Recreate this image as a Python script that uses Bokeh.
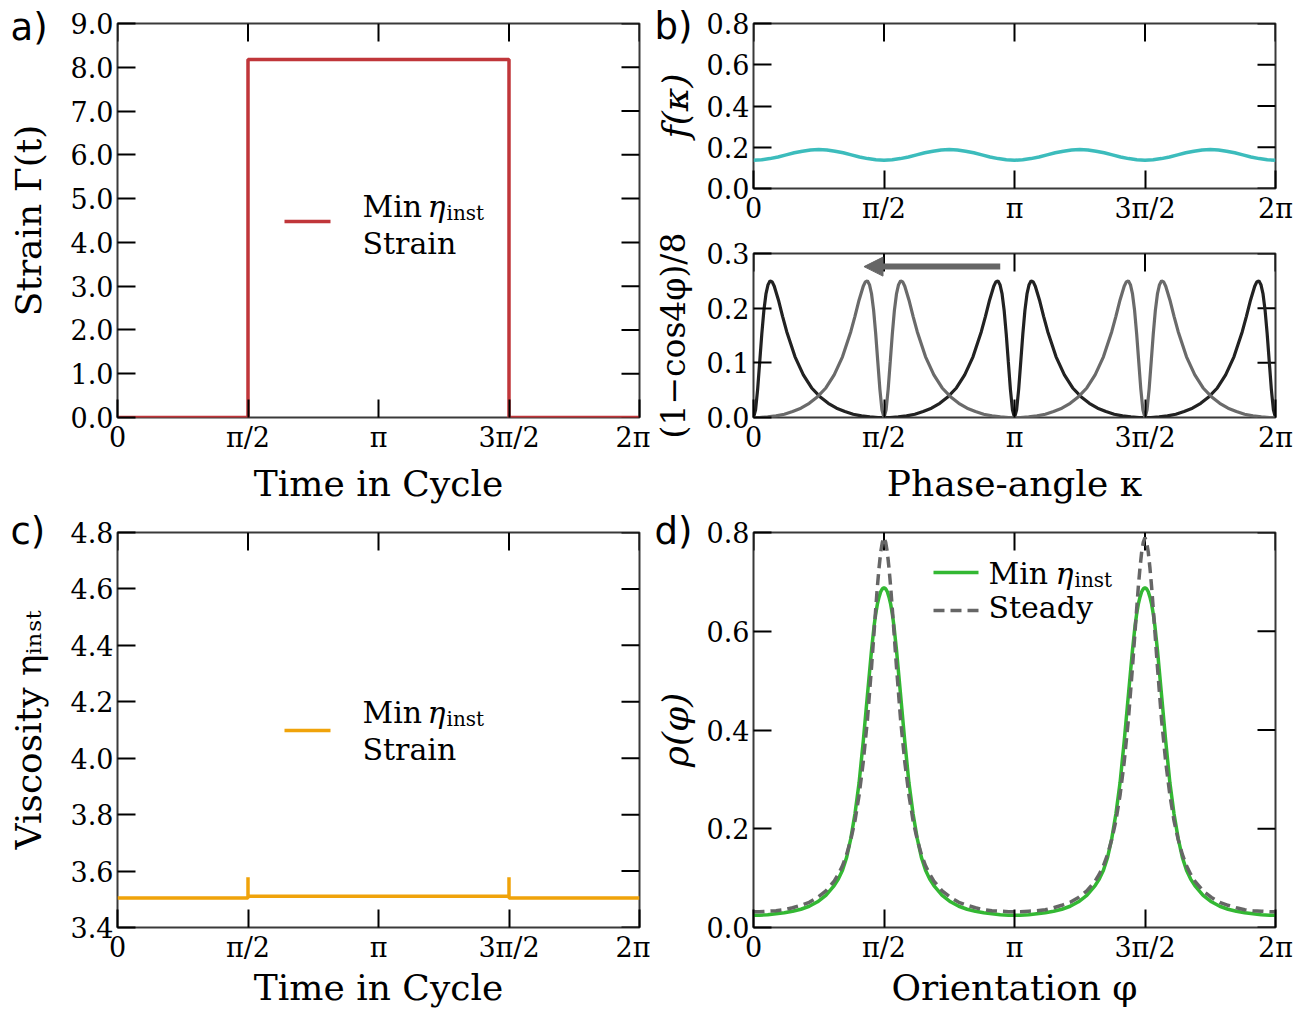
import numpy as np
from bokeh.plotting import figure
from bokeh.models import FixedTicker, Range1d, Label, Arrow, NormalHead
from bokeh.layouts import row, column
from bokeh.embed import file_html
from bokeh.resources import INLINE
from bokeh.core.properties import value

PI = np.pi

# ---------------- data ----------------
X_TICKS = [0.0, PI / 2, PI, 3 * PI / 2, 2 * PI]
X_TICK_LABELS = ["0", "π/2", "π", "3π/2", "2π"]

# a) strain
STRAIN_T = [0.0, 1.5708, 1.5708, 4.7124, 4.7124, 6.2832]
STRAIN_V = [0.0, 0.0, 8.18, 8.18, 0.0, 0.0]
A_YTICKS = [0.0, 1.0, 2.0, 3.0, 4.0, 5.0, 6.0, 7.0, 8.0, 9.0]

# b) top: f(kappa)
F_KAPPA = [0.0, 0.098, 0.196, 0.295, 0.393, 0.491, 0.589, 0.687, 0.785, 0.884, 0.982, 1.080, 1.178,
           1.276, 1.374, 1.473, 1.571, 1.669, 1.767, 1.865, 1.963, 2.062, 2.160, 2.258, 2.356, 2.454,
           2.553, 2.651, 2.749, 2.847, 2.945, 3.043, 3.142, 3.240, 3.338, 3.436, 3.534, 3.632, 3.731,
           3.829, 3.927, 4.025, 4.123, 4.221, 4.320, 4.418, 4.516, 4.614, 4.712, 4.810, 4.909, 5.007,
           5.105, 5.203, 5.301, 5.400, 5.498, 5.596, 5.694, 5.792, 5.890, 5.988, 6.087, 6.185, 6.283]
F_VALUES = [0.137, 0.139, 0.145, 0.153, 0.163, 0.173, 0.181, 0.187, 0.189, 0.187, 0.181, 0.173, 0.163,
            0.153, 0.145, 0.139, 0.137, 0.139, 0.145, 0.153, 0.163, 0.173, 0.181, 0.187, 0.189, 0.187,
            0.181, 0.173, 0.163, 0.153, 0.145, 0.139, 0.137, 0.139, 0.145, 0.153, 0.163, 0.173, 0.181,
            0.187, 0.189, 0.187, 0.181, 0.173, 0.163, 0.153, 0.145, 0.139, 0.137, 0.139, 0.145, 0.153,
            0.163, 0.173, 0.181, 0.187, 0.189, 0.187, 0.181, 0.173, 0.163, 0.153, 0.145, 0.139, 0.137]
BT_YTICKS = [0.0, 0.2, 0.4, 0.6, 0.8]

# b) bottom: (1 - cos 4phi)/8, two orbits
BLACK_KAPPA = [0.0, 0.025, 0.05, 0.075, 0.1, 0.125, 0.15, 0.175, 0.2, 0.225, 0.25, 0.3, 0.35, 0.4, 0.5,
               0.6, 0.7, 0.8, 0.9, 1.0, 1.1, 1.2, 1.3, 1.4, 1.5, 1.571,
               1.642, 1.742, 1.842, 1.942, 2.042, 2.142, 2.242, 2.342, 2.442, 2.542, 2.642, 2.742, 2.792,
               2.842, 2.892, 2.917, 2.942, 2.967, 2.992, 3.017, 3.042, 3.067, 3.092, 3.117, 3.142,
               3.167, 3.192, 3.217, 3.242, 3.267, 3.292, 3.317, 3.342, 3.367, 3.392, 3.442, 3.492, 3.542,
               3.642, 3.742, 3.842, 3.942, 4.042, 4.142, 4.242, 4.342, 4.442, 4.542, 4.642, 4.712,
               4.783, 4.883, 4.983, 5.083, 5.183, 5.283, 5.383, 5.483, 5.583, 5.683, 5.783, 5.883, 5.933,
               5.983, 6.033, 6.058, 6.083, 6.108, 6.133, 6.158, 6.183, 6.208, 6.233, 6.258, 6.283]
BLACK_VALUES = [0.0, 0.014, 0.052, 0.102, 0.153, 0.196, 0.226, 0.243, 0.250, 0.248, 0.240, 0.215, 0.185,
                0.157, 0.111, 0.078, 0.054, 0.038, 0.026, 0.017, 0.011, 0.006, 0.003, 0.001, 0.000, 0.000,
                0.000, 0.001, 0.003, 0.006, 0.011, 0.017, 0.026, 0.038, 0.054, 0.078, 0.111, 0.157, 0.185,
                0.215, 0.240, 0.248, 0.250, 0.243, 0.226, 0.196, 0.153, 0.102, 0.052, 0.014, 0.000,
                0.014, 0.052, 0.102, 0.153, 0.196, 0.226, 0.243, 0.250, 0.248, 0.240, 0.215, 0.185, 0.157,
                0.111, 0.078, 0.054, 0.038, 0.026, 0.017, 0.011, 0.006, 0.003, 0.001, 0.000, 0.000,
                0.000, 0.001, 0.003, 0.006, 0.011, 0.017, 0.026, 0.038, 0.054, 0.078, 0.111, 0.157, 0.185,
                0.215, 0.240, 0.248, 0.250, 0.243, 0.226, 0.196, 0.153, 0.102, 0.052, 0.014, 0.000]
GRAY_KAPPA = [0.0, 0.071, 0.171, 0.271, 0.371, 0.471, 0.571, 0.671, 0.771, 0.871, 0.971, 1.071, 1.171,
              1.221, 1.271, 1.321, 1.346, 1.371, 1.396, 1.421, 1.446, 1.471, 1.496, 1.521, 1.546, 1.571,
              1.596, 1.621, 1.646, 1.671, 1.696, 1.721, 1.746, 1.771, 1.796, 1.821, 1.871, 1.921, 1.971,
              2.071, 2.171, 2.271, 2.371, 2.471, 2.571, 2.671, 2.771, 2.871, 2.971, 3.071, 3.142,
              3.212, 3.312, 3.412, 3.512, 3.612, 3.712, 3.812, 3.912, 4.012, 4.112, 4.212, 4.312, 4.362,
              4.412, 4.462, 4.487, 4.512, 4.537, 4.562, 4.587, 4.612, 4.637, 4.662, 4.687, 4.712,
              4.737, 4.762, 4.787, 4.812, 4.837, 4.862, 4.887, 4.912, 4.937, 4.962, 5.012, 5.062, 5.112,
              5.212, 5.312, 5.412, 5.512, 5.612, 5.712, 5.812, 5.912, 6.012, 6.112, 6.212, 6.283]
GRAY_VALUES = [0.000, 0.000, 0.001, 0.003, 0.006, 0.011, 0.017, 0.026, 0.038, 0.054, 0.078, 0.111, 0.157,
               0.185, 0.215, 0.240, 0.248, 0.250, 0.243, 0.226, 0.196, 0.153, 0.102, 0.052, 0.014, 0.000,
               0.014, 0.052, 0.102, 0.153, 0.196, 0.226, 0.243, 0.250, 0.248, 0.240, 0.215, 0.185, 0.157,
               0.111, 0.078, 0.054, 0.038, 0.026, 0.017, 0.011, 0.006, 0.003, 0.001, 0.000, 0.000,
               0.000, 0.001, 0.003, 0.006, 0.011, 0.017, 0.026, 0.038, 0.054, 0.078, 0.111, 0.157, 0.185,
               0.215, 0.240, 0.248, 0.250, 0.243, 0.226, 0.196, 0.153, 0.102, 0.052, 0.014, 0.000,
               0.014, 0.052, 0.102, 0.153, 0.196, 0.226, 0.243, 0.250, 0.248, 0.240, 0.215, 0.185, 0.157,
               0.111, 0.078, 0.054, 0.038, 0.026, 0.017, 0.011, 0.006, 0.003, 0.001, 0.000, 0.000]
BB_YTICKS = [0.0, 0.1, 0.2, 0.3]

# c) viscosity
VISC_T = [0.0, 1.5708, 1.5708, 1.5708, 4.7124, 4.7124, 4.7124, 6.2832]
VISC_V = [3.505, 3.505, 3.578, 3.511, 3.511, 3.578, 3.505, 3.505]
C_YTICKS = [3.4, 3.6, 3.8, 4.0, 4.2, 4.4, 4.6, 4.8]

# d) orientation distribution
PHI = [0.0, 0.071, 0.171, 0.271, 0.371, 0.471, 0.571, 0.671, 0.771, 0.871, 0.971, 1.021, 1.071, 1.121,
       1.171, 1.221, 1.271, 1.321, 1.371, 1.421, 1.451, 1.471, 1.491, 1.511, 1.531, 1.551, 1.571,
       1.591, 1.611, 1.631, 1.651, 1.671, 1.691, 1.721, 1.771, 1.821, 1.871, 1.921, 1.971, 2.021,
       2.071, 2.121, 2.171, 2.271, 2.371, 2.471, 2.571, 2.671, 2.771, 2.871, 2.971, 3.071, 3.142,
       3.212, 3.312, 3.412, 3.512, 3.612, 3.712, 3.812, 3.912, 4.012, 4.112, 4.162, 4.212, 4.262,
       4.312, 4.362, 4.412, 4.462, 4.512, 4.562, 4.592, 4.612, 4.632, 4.652, 4.672, 4.692, 4.712,
       4.732, 4.752, 4.772, 4.792, 4.812, 4.832, 4.862, 4.912, 4.962, 5.012, 5.062, 5.112, 5.162,
       5.212, 5.262, 5.312, 5.412, 5.512, 5.612, 5.712, 5.812, 5.912, 6.012, 6.112, 6.212, 6.283]
RHO_MIN = [0.025, 0.025, 0.026, 0.028, 0.030, 0.033, 0.037, 0.043, 0.052, 0.065, 0.085, 0.098, 0.116,
           0.142, 0.180, 0.230, 0.293, 0.377, 0.470, 0.562, 0.610, 0.635, 0.655, 0.669, 0.680, 0.686, 0.688,
           0.686, 0.680, 0.669, 0.655, 0.635, 0.610, 0.562, 0.470, 0.377, 0.293, 0.230, 0.180, 0.142,
           0.116, 0.098, 0.085, 0.065, 0.052, 0.043, 0.037, 0.033, 0.030, 0.028, 0.026, 0.025, 0.025,
           0.025, 0.026, 0.028, 0.030, 0.033, 0.037, 0.043, 0.052, 0.065, 0.085, 0.098, 0.116, 0.142,
           0.180, 0.230, 0.293, 0.377, 0.470, 0.562, 0.610, 0.635, 0.655, 0.669, 0.680, 0.686, 0.688,
           0.686, 0.680, 0.669, 0.655, 0.635, 0.610, 0.562, 0.470, 0.377, 0.293, 0.230, 0.180, 0.142,
           0.116, 0.098, 0.085, 0.065, 0.052, 0.043, 0.037, 0.033, 0.030, 0.028, 0.026, 0.025, 0.025]
RHO_STEADY = [0.032, 0.032, 0.033, 0.034, 0.036, 0.040, 0.045, 0.051, 0.061, 0.074, 0.094, 0.108, 0.125,
              0.148, 0.178, 0.216, 0.268, 0.335, 0.420, 0.528, 0.598, 0.645, 0.690, 0.728, 0.760, 0.780, 0.790,
              0.780, 0.760, 0.728, 0.690, 0.645, 0.598, 0.528, 0.420, 0.335, 0.268, 0.216, 0.178, 0.148,
              0.125, 0.108, 0.094, 0.074, 0.061, 0.051, 0.045, 0.040, 0.036, 0.034, 0.033, 0.032, 0.032,
              0.032, 0.033, 0.034, 0.036, 0.040, 0.045, 0.051, 0.061, 0.074, 0.094, 0.108, 0.125, 0.148,
              0.178, 0.216, 0.268, 0.335, 0.420, 0.528, 0.598, 0.645, 0.690, 0.728, 0.760, 0.780, 0.790,
              0.780, 0.760, 0.728, 0.690, 0.645, 0.598, 0.528, 0.420, 0.335, 0.268, 0.216, 0.178, 0.148,
              0.125, 0.108, 0.094, 0.074, 0.061, 0.051, 0.045, 0.040, 0.036, 0.034, 0.033, 0.032, 0.032]
D_YTICKS = [0.0, 0.2, 0.4, 0.6, 0.8]

# ---------------- style ----------------
SERIF = "DejaVu Serif"
SANS = "DejaVu Sans"
TICK_FS = "27px"
LABEL_FS = "36px"
LEG_FS = "30px"
SUB_FS = "20px"
LETTER_FS = "37px"
FW = 522
TICK_LEN = 18


def make_fig(fh, yr, yticks, ylabel, mb, ylab_style="normal", xlabel=None, ylab_fs=LABEL_FS,
             ylab_standoff=19, xlab_standoff=7):
    p = figure(frame_width=FW, frame_height=fh, x_range=Range1d(0, 2 * PI), y_range=Range1d(*yr),
               toolbar_location=None, output_backend="svg",
               min_border_top=mb[0], min_border_right=mb[1], min_border_bottom=mb[2], min_border_left=mb[3])
    p.xgrid.visible = False
    p.ygrid.visible = False
    p.outline_line_color = "#3a3a3a"
    p.outline_line_width = 2
    p.background_fill_color = "white"
    p.border_fill_color = "white"

    xa = p.xaxis[0]
    ya = p.yaxis[0]
    xa.ticker = FixedTicker(ticks=X_TICKS)
    xa.major_label_overrides = {t: l for t, l in zip(X_TICKS, X_TICK_LABELS)}
    ya.ticker = FixedTicker(ticks=yticks)
    ya.major_label_overrides = {t: "%.1f" % t for t in yticks}
    for ax in (xa, ya):
        ax.axis_line_color = None
        ax.major_tick_in = TICK_LEN
        ax.major_tick_out = 0
        ax.minor_tick_in = 0
        ax.minor_tick_out = 0
        ax.major_tick_line_color = "black"
        ax.major_tick_line_width = 2
        ax.major_label_text_font = SERIF
        ax.major_label_text_font_size = TICK_FS
        ax.major_label_text_color = "black"
        ax.major_label_standoff = 4
        ax.axis_label_text_font = SERIF
        ax.axis_label_text_font_size = LABEL_FS
        ax.axis_label_text_color = "black"
    ya.axis_label = ylabel
    ya.axis_label_text_font_style = ylab_style
    ya.axis_label_text_font_size = ylab_fs
    ya.axis_label_standoff = ylab_standoff
    if xlabel:
        xa.axis_label = xlabel
        xa.axis_label_text_font_style = "normal"
        xa.axis_label_standoff = xlab_standoff

    # inward ticks on the top and right edges of the box
    y0, y1 = yr
    dy = TICK_LEN / fh * (y1 - y0)
    dx = TICK_LEN / FW * (2 * PI)
    p.segment(x0=X_TICKS, y0=[y1] * len(X_TICKS), x1=X_TICKS, y1=[y1 - dy] * len(X_TICKS),
              line_color="black", line_width=2)
    p.segment(x0=[2 * PI] * len(yticks), y0=yticks, x1=[2 * PI - dx] * len(yticks), y1=yticks,
              line_color="black", line_width=2)
    return p


def txt(p, fx, fy, text, size, font=SERIF, style="normal", baseline="alphabetic"):
    p.add_layout(Label(x=fx, y=fy, x_units="screen", y_units="screen", text=text,
                       text_font=font, text_font_size=size, text_font_style=style,
                       text_baseline=baseline, text_align="left", text_color="black"))


def to_data(p, fh, fx, fy):
    xr, yr = p.x_range, p.y_range
    return (xr.start + fx / FW * (xr.end - xr.start), yr.start + fy / fh * (yr.end - yr.start))


def letter(p, fh, fx, fy, text):
    x, y = to_data(p, fh, fx, fy)
    p.text(x=[x], y=[y], text=[text], text_font=value(SANS), text_font_size=value(LETTER_FS),
           text_baseline="middle", text_align="left", text_color="black", level="overlay")


# ---- a) ----
HA = 394
pa = make_fig(HA, (0, 9), A_YTICKS, "Strain Γ(t)", (23, 11, 91, 117), xlabel="Time in Cycle")
pa.line(STRAIN_T, STRAIN_V, line_color="#c0363a", line_width=3.5)
x0, y0 = to_data(pa, HA, 167, 196)
x1, _ = to_data(pa, HA, 213, 196)
pa.line([x0, x1], [y0, y0], line_color="#c0363a", line_width=3.5)
txt(pa, 245, 211, "Min", LEG_FS)
txt(pa, 310, 211, "η", LEG_FS, style="italic")
txt(pa, 329, 205, "inst", SUB_FS)
txt(pa, 245, 174, "Strain", LEG_FS)
letter(pa, HA, -107, 390, "a)")

# ---- c) ----
HC = 395
pc = make_fig(HC, (3.4, 4.8), C_YTICKS, "Viscosity ηᵢₙₛₜ", (24, 11, 80, 117), xlabel="Time in Cycle",
              xlab_standoff=1)
pc.line(VISC_T, VISC_V, line_color="#f0a30a", line_width=3.5)
x0, y0 = to_data(pc, HC, 167, 197)
x1, _ = to_data(pc, HC, 213, 197)
pc.line([x0, x1], [y0, y0], line_color="#f0a30a", line_width=3.5)
txt(pc, 245, 215, "Min", LEG_FS)
txt(pc, 310, 215, "η", LEG_FS, style="italic")
txt(pc, 329, 209, "inst", SUB_FS)
txt(pc, 245, 178, "Strain", LEG_FS)
letter(pc, HC, -107, 396, "c)")

# ---- b) top ----
HBT = 165
pbt = make_fig(HBT, (0, 0.8), BT_YTICKS, "f(κ)", (23, 21, 38, 103), ylab_style="italic", ylab_standoff=8)
pbt.line(F_KAPPA, F_VALUES, line_color="#3cbcbc", line_width=3.5)
letter(pbt, HBT, -99, 162, "b)")

# ---- b) bottom ----
HBB = 164
pbb = make_fig(HBB, (0, 0.3), BB_YTICKS, "(1−cos4φ)/8", (27, 21, 91, 103), xlabel="Phase-angle κ",
               ylab_fs="33px", ylab_standoff=11)
pbb.line(BLACK_KAPPA, BLACK_VALUES, line_color="#222222", line_width=3.2)
pbb.line(GRAY_KAPPA, GRAY_VALUES, line_color="#6a6a6a", line_width=3.2)
ARROW_FROM = (2.97, 0.276)
ARROW_TO = (1.33, 0.276)
pbb.add_layout(Arrow(end=NormalHead(size=19, fill_color="#666666", line_color="#666666"),
                     x_start=ARROW_FROM[0], y_start=ARROW_FROM[1], x_end=ARROW_TO[0], y_end=ARROW_TO[1],
                     line_color="#666666", line_width=6))

# ---- d) ----
HD = 395
pd_ = make_fig(HD, (0, 0.8), D_YTICKS, "ρ(φ)", (24, 21, 80, 103), ylab_style="italic", xlabel="Orientation φ",
               ylab_standoff=8, xlab_standoff=1)
pd_.line(PHI, RHO_MIN, line_color="#33b833", line_width=3.5)
pd_.line(PHI, RHO_STEADY, line_color="#666666", line_width=3.5, line_dash="11 6")
x0, y0 = to_data(pd_, HD, 180, 355)
x1, _ = to_data(pd_, HD, 225, 355)
pd_.line([x0, x1], [y0, y0], line_color="#33b833", line_width=3.5)
x0, y0 = to_data(pd_, HD, 180, 317)
x1, _ = to_data(pd_, HD, 225, 317)
pd_.line([x0, x1], [y0, y0], line_color="#666666", line_width=3.5, line_dash="11 6")
txt(pd_, 235, 354, "Min", LEG_FS)
txt(pd_, 302, 354, "η", LEG_FS, style="italic")
txt(pd_, 321, 348, "inst", SUB_FS)
txt(pd_, 235, 320, "Steady", LEG_FS)
letter(pd_, HD, -99, 396, "d)")

layout = row(column(pa, pc), column(pbt, pbb, pd_))
open("out.html", "w").write(file_html(layout, INLINE))
